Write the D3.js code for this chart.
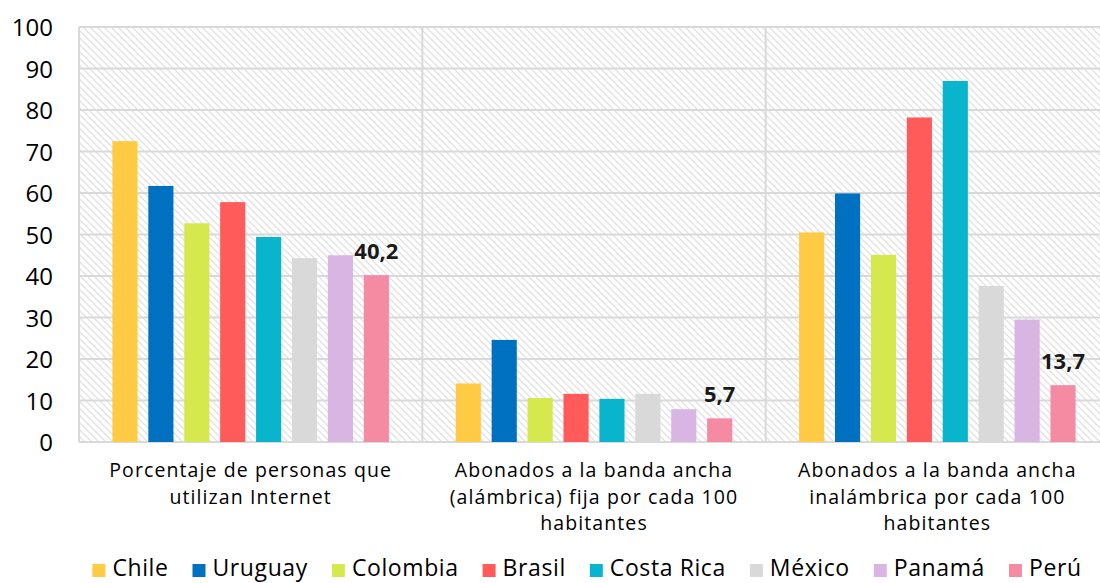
<!DOCTYPE html>
<html>
<head>
<meta charset="utf-8">
<script src="https://cdn.jsdelivr.net/npm/d3@7/dist/d3.min.js"></script>
<style>
  html, body { margin: 0; padding: 0; background: #ffffff; }
  svg { display: block; }
</style>
</head>
<body>
<svg id="chart" width="1100" height="583"></svg>
<script>
// Indicator groups (x axis), each label split into lines
const categories = [
  ["Porcentaje de personas que", "utilizan Internet"],
  ["Abonados a la banda ancha", "(alámbrica) fija por cada 100", "habitantes"],
  ["Abonados a la banda ancha", "inalámbrica por cada 100", "habitantes"]
];

const countries = ["Chile", "Uruguay", "Colombia", "Brasil", "Costa Rica", "México", "Panamá", "Perú"];
const colors = ["#FFCA44", "#0070C0", "#D5E94F", "#FF5B5B", "#08B5CC", "#D9D9D9", "#D9B5E3", "#F58BA3"];

// One value per indicator, per country
const chile     = [72.5, 14.1, 50.5];
const uruguay   = [61.7, 24.6, 59.9];
const colombia  = [52.7, 10.6, 45.1];
const brasil    = [57.8, 11.6, 78.2];
const costaRica = [49.4, 10.4, 87.0];
const mexico    = [44.3, 11.6, 37.6];
const panama    = [45.0,  7.9, 29.5];
const peru      = [40.2,  5.7, 13.7];

const yTicks = [0, 10, 20, 30, 40, 50, 60, 70, 80, 90, 100];

// Only Perú carries value labels
const labelledCountry = "Perú";

const seriesValues = [chile, uruguay, colombia, brasil, costaRica, mexico, panama, peru];

const FONT = "'Open Sans', 'Noto Sans', sans-serif";

const svg = d3.select("#chart");
const margin = { left: 79, top: 27, bottom: 141 };
const plotW = 1030;
const plotH = 583 - margin.top - margin.bottom;

const x0 = d3.scaleBand().domain(d3.range(categories.length)).range([margin.left, margin.left + plotW]).padding(0);
const x1 = d3.scaleBand().domain(countries).range([0, x0.bandwidth()]).paddingInner(0.3).paddingOuter(0.93);
const y = d3.scaleLinear().domain([0, 100]).range([margin.top + plotH, margin.top]);

// Diagonal hatch fill for the plot background
const defs = svg.append("defs");
const P = 7;
const pat = defs.append("pattern")
  .attr("id", "hatch")
  .attr("patternUnits", "userSpaceOnUse")
  .attr("width", P).attr("height", P);
pat.append("rect").attr("width", P).attr("height", P).attr("fill", "#ffffff");
pat.append("path")
  .attr("d", `M-1,-1 L${P + 1},${P + 1} M-1,${P - 1} L1,${P + 1} M${P - 1},-1 L${P + 1},1`)
  .attr("stroke", "#dedede").attr("stroke-width", 1.2);

svg.append("rect")
  .attr("x", margin.left).attr("y", margin.top)
  .attr("width", plotW).attr("height", plotH)
  .attr("fill", "url(#hatch)");

// Horizontal gridlines
svg.append("g")
  .selectAll("line")
  .data(yTicks)
  .join("line")
  .attr("x1", margin.left).attr("x2", margin.left + plotW)
  .attr("y1", d => y(d)).attr("y2", d => y(d))
  .attr("stroke", "#d9d9d9").attr("stroke-width", 2);

// Vertical separators between indicator groups
const seps = d3.range(categories.length + 1).map(i => i < categories.length ? x0(i) : margin.left + plotW);
svg.append("g")
  .selectAll("line")
  .data(seps)
  .join("line")
  .attr("x1", d => d).attr("x2", d => d)
  .attr("y1", margin.top).attr("y2", margin.top + plotH)
  .attr("stroke", "#d9d9d9").attr("stroke-width", 2);

// Y axis labels
const yAxis = d3.axisLeft(y).tickValues(yTicks).tickSize(0).tickPadding(0);
const yg = svg.append("g").attr("transform", `translate(${margin.left - 26},0)`).call(yAxis);
yg.select(".domain").remove();
yg.selectAll("text")
  .attr("font-family", FONT)
  .attr("font-size", 24)
  .attr("fill", "#000")
  .attr("dy", "0.36em");

// Bars
const groups = svg.append("g")
  .selectAll("g")
  .data(categories.map((c, i) => i))
  .join("g")
  .attr("transform", i => `translate(${x0(i)},0)`);

groups.selectAll("rect")
  .data(i => countries.map((c, k) => ({ country: c, value: seriesValues[k][i], color: colors[k] })))
  .join("rect")
  .attr("x", d => x1(d.country))
  .attr("width", x1.bandwidth())
  .attr("y", d => y(d.value))
  .attr("height", d => y(0) - y(d.value))
  .attr("fill", d => d.color);

// Value labels
groups.selectAll("text.val")
  .data(i => countries.map((c, k) => ({ country: c, value: seriesValues[k][i] })).filter(d => d.country === labelledCountry))
  .join("text")
  .attr("class", "val")
  .attr("x", d => x1(d.country) + x1.bandwidth() / 2)
  .attr("y", d => y(d.value) - 16)
  .attr("text-anchor", "middle")
  .attr("font-family", FONT)
  .attr("font-weight", "bold")
  .attr("font-size", 22)
  .attr("fill", "#1a1a1a")
  .text(d => d3.format(".1f")(d.value).replace(".", ","));

// Category labels, one text element per line
const catG = svg.append("g");
categories.forEach((lines, i) => {
  const cx = x0(i) + x0.bandwidth() / 2;
  lines.forEach((ln, j) => {
    catG.append("text")
      .attr("x", cx)
      .attr("y", 477 + j * 26.5)
      .attr("text-anchor", "middle")
      .attr("font-family", FONT)
      .attr("font-size", 19.5)
      .attr("letter-spacing", 1.1)
      .attr("fill", "#000")
      .text(ln);
  });
});

// Legend
const legend = svg.append("g");
const items = legend.selectAll("g")
  .data(countries.map((c, k) => ({ name: c, color: colors[k] })))
  .join("g");
items.append("rect")
  .attr("width", 13).attr("height", 13)
  .attr("y", 564)
  .attr("fill", d => d.color);
items.append("text")
  .attr("x", 20)
  .attr("y", 576)
  .attr("font-family", FONT)
  .attr("font-size", 23)
  .attr("letter-spacing", 0.6)
  .attr("fill", "#000")
  .text(d => d.name);

const gap = 24;
const widths = [];
items.each(function() {
  widths.push(d3.select(this).select("text").node().getComputedTextLength() + 20);
});
const total = d3.sum(widths) + gap * (widths.length - 1);
let lx = 587 - total / 2;
items.each(function(d, k) {
  d3.select(this).attr("transform", `translate(${lx},0)`);
  lx += widths[k] + gap;
});
</script>
</body>
</html>
